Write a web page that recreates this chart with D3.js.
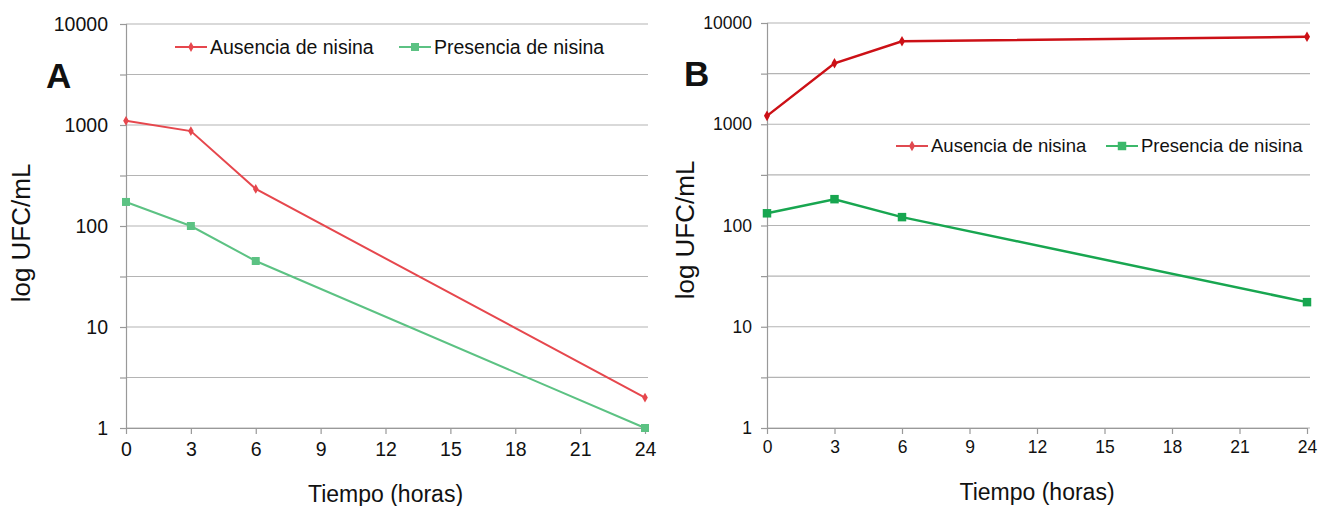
<!DOCTYPE html>
<html>
<head>
<meta charset="utf-8">
<script src="https://cdn.jsdelivr.net/npm/d3@7"></script>
<style>
  body { margin: 0; background: #fff; }
  text { font-family: "Liberation Sans", Arial, sans-serif; fill: #111; }
</style>
</head>
<body>
<svg id="chart"></svg>
<script>
// hours sampled
let hours = [0, 3, 6, 24];
let xTicks = [0, 3, 6, 9, 12, 15, 18, 21, 24];
let yTicks = [1, 10, 100, 1000, 10000];

// panel A values (log UFC/mL)
let ausenciaA = [1100, 870, 233, 2];
let presenciaA = [173, 100, 45, 1];

// panel B values
let ausenciaB = [1210, 4000, 6600, 7300];
let presenciaB = [132, 182, 121, 17.5];

let seriesNames = ["Ausencia de nisina", "Presencia de nisina"];

let width = 1318;
let height = 506;

let svg = d3.select("#chart").attr("width", width).attr("height", height);

// gridlines at every decade and half decade
let gridValues = d3.range(0, 4.01, 0.5).map((e) => Math.pow(10, e));

let drawPanel = (p) => {
    let xScale = d3.scaleLinear().domain([0, 24]).range([p.left, p.right]);
    let yScale = d3.scaleLog().domain([1, 10000]).range([p.bottom, p.top]);

    let g = svg.append("g");

    // horizontal gridlines
    g.selectAll(".grid")
        .data(gridValues)
        .enter()
        .append("line")
        .attr("x1", p.left)
        .attr("x2", p.right + 3)
        .attr("y1", (d) => yScale(d))
        .attr("y2", (d) => yScale(d))
        .attr("stroke", "#b4b4b4")
        .attr("stroke-width", 1.2);

    let yAxis = d3.axisLeft(yScale)
        .tickValues(gridValues)
        .tickSize(6)
        .tickPadding(p.yPad)
        .tickFormat((d) => yTicks.includes(Math.round(d)) && Math.abs(Math.log10(d) % 1) < 1e-9 ? String(Math.round(d)) : "");

    let yg = g.append("g")
        .attr("transform", "translate(" + p.left + ",0)")
        .call(yAxis);
    yg.select(".domain").attr("stroke", "#999").attr("stroke-width", 1.2);
    yg.selectAll(".tick line").attr("stroke", "#999").attr("stroke-width", 1.2);
    yg.selectAll(".tick text").attr("font-size", p.tickFont).attr("fill", "#111")
        .attr("font-family", "'Liberation Sans', Arial, sans-serif");

    let xAxis = d3.axisBottom(xScale)
        .tickValues(xTicks)
        .tickSize(6)
        .tickPadding(p.xPad)
        .tickSizeOuter(0);

    let xg = g.append("g")
        .attr("transform", "translate(0," + p.bottom + ")")
        .call(xAxis);
    xg.select(".domain").attr("stroke", "#999").attr("stroke-width", 1.2);
    xg.selectAll(".tick line").attr("stroke", "#999").attr("stroke-width", 1.2);
    xg.selectAll(".tick text").attr("font-size", p.tickFont).attr("fill", "#111")
        .attr("font-family", "'Liberation Sans', Arial, sans-serif");

    // axis titles
    g.append("text")
        .attr("x", (p.left + p.right) / 2)
        .attr("y", p.xTitleY)
        .attr("text-anchor", "middle")
        .attr("font-size", 23)
        .text("Tiempo (horas)");

    g.append("text")
        .attr("transform", "translate(" + p.yTitleX + "," + p.yTitleY + ") rotate(-90)")
        .attr("text-anchor", "middle")
        .attr("font-size", 26)
        .text("log UFC/mL");

    // panel letter
    g.append("text")
        .attr("x", p.letterX)
        .attr("y", p.letterY)
        .attr("font-size", 35)
        .attr("font-weight", "bold")
        .text(p.letter);

    let line = d3.line()
        .x((d, i) => xScale(hours[i]))
        .y((d) => yScale(d));

    let diamond = d3.symbol().type(d3.symbolDiamond).size(p.diamondSize);
    let square = d3.symbol().type(d3.symbolSquare).size(p.squareSize);

    let series = [
        { values: p.ausencia, color: p.red, legendColor: p.legendRed, shape: diamond },
        { values: p.presencia, color: p.green, legendColor: p.legendGreen, shape: square }
    ];

    series.forEach((s) => {
        g.append("path")
            .datum(s.values)
            .attr("fill", "none")
            .attr("stroke", s.color)
            .attr("stroke-width", p.lineWidth)
            .attr("d", line);

        g.selectAll(null)
            .data(s.values)
            .enter()
            .append("path")
            .attr("d", s.shape)
            .attr("fill", s.color)
            .attr("transform", (d, i) => "translate(" + xScale(hours[i]) + "," + yScale(d) + ")");
    });

    // legend
    series.forEach((s, i) => {
        let lx = p.legendX[i];
        let ly = p.legendY;
        g.append("line")
            .attr("x1", lx).attr("x2", lx + 32)
            .attr("y1", ly).attr("y2", ly)
            .attr("stroke", s.legendColor)
            .attr("stroke-width", 2);
        g.append("path")
            .attr("d", s.shape)
            .attr("fill", s.legendColor)
            .attr("transform", "translate(" + (lx + 16) + "," + ly + ")");
        g.append("text")
            .attr("x", lx + 35)
            .attr("y", ly)
            .attr("dy", "0.35em")
            .attr("font-size", p.legendFont)
            .text(seriesNames[i]);
    });
};

drawPanel({
    letter: "A", letterX: 46, letterY: 88,
    left: 126, right: 645, top: 24, bottom: 428,
    tickFont: 19.5, yPad: 12, xPad: 8,
    xTitleY: 502, yTitleX: 30, yTitleY: 233,
    ausencia: ausenciaA, presencia: presenciaA,
    red: "#e6474d", green: "#5cc283",
    legendRed: "#e6474d", legendGreen: "#5cc283",
    lineWidth: 2, diamondSize: 28, squareSize: 64,
    legendX: [175, 399], legendY: 47, legendFont: 19.5
});

drawPanel({
    letter: "B", letterX: 684, letterY: 86,
    left: 767, right: 1307, top: 23, bottom: 428,
    tickFont: 17.5, yPad: 9, xPad: 7,
    xTitleY: 500, yTitleX: 694, yTitleY: 230,
    ausencia: ausenciaB, presencia: presenciaB,
    red: "#cc1016", green: "#18a650",
    legendRed: "#e04a50", legendGreen: "#3cb86a",
    lineWidth: 2.5, diamondSize: 32, squareSize: 72,
    legendX: [896, 1106], legendY: 146, legendFont: 18.5
});
</script>
</body>
</html>
